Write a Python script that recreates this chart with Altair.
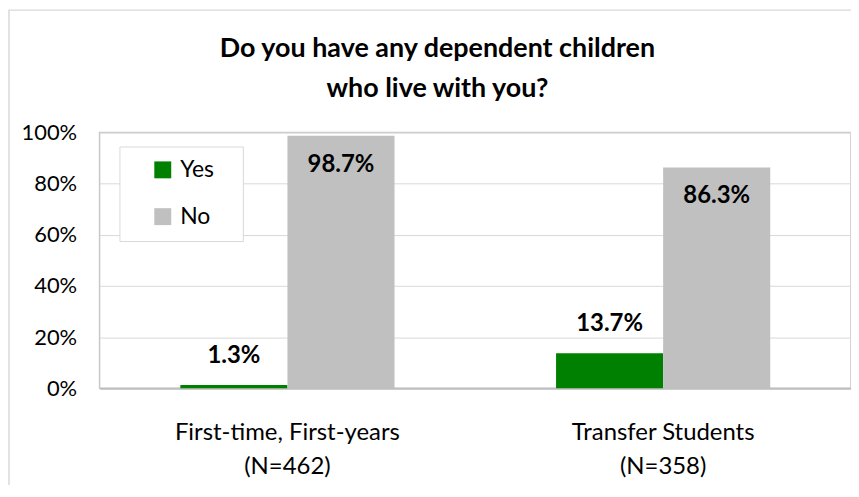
import altair as alt
import pandas as pd

categories = ["First-time, First-years", "Transfer Students"]
n_values = [462, 358]
answers = ["Yes", "No"]
yes_pct = [1.3, 13.7]
no_pct = [98.7, 86.3]
colors = ["#008000", "#c0c0c0"]
title_lines = ["Do you have any dependent children", "who live with you?"]

FONT = "Lato"

rows = []
for c, n, y, no in zip(categories, n_values, yes_pct, no_pct):
    label = f"{c}|(N={n})"
    rows.append({"group": label, "answer": "Yes", "value": y / 100})
    rows.append({"group": label, "answer": "No", "value": no / 100})
df = pd.DataFrame(rows)
group_order = [f"{c}|(N={n})" for c, n in zip(categories, n_values)]

W, H = 755, 257

x_enc = alt.X(
    "group:N",
    sort=group_order,
    scale=alt.Scale(paddingInner=0.43, paddingOuter=0.215),
    axis=alt.Axis(
        title=None,
        labelExpr="split(datum.label, '|')",
        labelAngle=0,
        labelFontSize=24,
        labelFont=FONT,
        labelColor="#000000",
        labelLineHeight=35,
        labelLimit=500,
        labelPadding=32,
        ticks=False,
        domainColor="#bfbfbf",
        domainWidth=2,
    ),
)
xoff = alt.XOffset("answer:N", sort=answers)
y_enc = alt.Y(
    "value:Q",
    scale=alt.Scale(domain=[0, 1]),
    axis=alt.Axis(
        title=None,
        format=".0%",
        values=[0, 0.2, 0.4, 0.6, 0.8, 1.0],
        labelFontSize=22,
        labelFont=FONT,
        labelColor="#000000",
        labelPadding=23,
        ticks=False,
        domain=False,
        gridColor="#d9d9d9",
        gridWidth=1,
    ),
)

blank_pad = "\u2800"
bars = alt.Chart(df).mark_bar().encode(
    x=x_enc,
    xOffset=xoff,
    y=y_enc,
    color=alt.Color(
        "answer:N",
        sort=answers,
        scale=alt.Scale(domain=answers, range=colors),
        legend=alt.Legend(
            title=None,
            orient="none",
            legendX=20,
            legendY=14,
            fillColor="#ffffff",
            strokeColor="#d9d9d9",
            padding=12,
            symbolType="square",
            symbolSize=289,
            symbolStrokeWidth=0,
            symbolOffset=20,
            labelOffset=6,
            labelFontSize=23,
            labelFont=FONT,
            labelColor="#000000",
            rowPadding=23,
            labelExpr="datum.label + '" + blank_pad + "'",
        ),
    ),
)

yes_text = alt.Chart(df).transform_filter(alt.datum.answer == "Yes").mark_text(
    fontSize=24, fontWeight="bold", font=FONT, baseline="middle", dy=-29, color="#000000"
).encode(
    x=alt.X("group:N", sort=group_order),
    xOffset=xoff,
    y="value:Q",
    text=alt.Text("value:Q", format=".1%"),
)
no_text = alt.Chart(df).transform_filter(alt.datum.answer == "No").mark_text(
    fontSize=24, fontWeight="bold", font=FONT, baseline="middle", dy=29, color="#000000"
).encode(
    x=alt.X("group:N", sort=group_order),
    xOffset=xoff,
    y="value:Q",
    text=alt.Text("value:Q", format=".1%"),
)

frame = alt.Chart(pd.DataFrame({"k": [0]})).mark_rect(
    fillOpacity=0, stroke="#d9d9d9", strokeWidth=1.5
).encode(
    x=alt.value(-91), x2=alt.value(W + 40), y=alt.value(-123), y2=alt.value(H + 200)
)

chart = alt.layer(frame, bars, yes_text, no_text).properties(
    width=W,
    height=H,
    padding={"left": 92, "top": 124, "right": 0, "bottom": 96},
    autosize=alt.AutoSizeParams(type="none"),
    title=alt.TitleParams(
        text=title_lines,
        fontSize=27,
        font=FONT,
        fontWeight="bold",
        color="#000000",
        lineHeight=40,
        offset=-94,
        dx=-38,
        anchor="middle",
    ),
).configure_view(stroke="#c8c8c8", strokeWidth=1.5)

chart.save("out.html", embed_options={"renderer": "svg", "actions": False})
